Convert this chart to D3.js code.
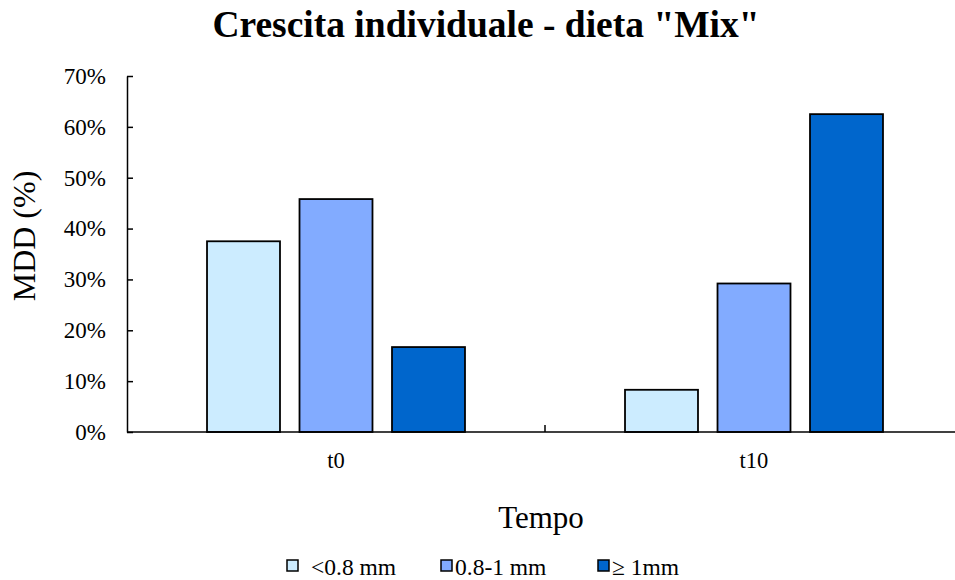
<!DOCTYPE html>
<html>
<head>
<meta charset="utf-8">
<script src="https://cdn.jsdelivr.net/npm/d3@7"></script>
<style>
  html, body { margin: 0; padding: 0; background: #fff; }
  svg { display: block; font-family: "Liberation Serif", "Times New Roman", serif; }
</style>
</head>
<body>
<svg id="chart" width="955" height="580"></svg>
<script>
// Time points and size classes
const categories = ["t0", "t10"];
const seriesNames = ["<0.8 mm", "0.8-1 mm", "\u2265 1mm"];
const seriesColors = ["#CCECFF", "#82ABFF", "#0066CC"];
// Share of individuals per size class (%), one array per class, ordered as categories
const small  = [37.5, 8.3];
const medium = [45.8, 29.2];
const large  = [16.7, 62.5];
const seriesValues = [small, medium, large];
const yTicks = [0, 10, 20, 30, 40, 50, 60, 70];

const svg = d3.select("#chart");
const plot = { left: 127, top: 76, bottom: 432, right: 963 };

const x0 = d3.scaleBand().domain(categories).range([plot.left, plot.right]).paddingInner(0).paddingOuter(0);
const x1 = d3.scaleBand().domain(d3.range(seriesNames.length)).range([0, x0.bandwidth()])
  .paddingInner(0.211).paddingOuter(0.865);
const y = d3.scaleLinear().domain([0, 70]).range([plot.bottom, plot.top]);

// Title
svg.append("text")
  .attr("x", 486).attr("y", 37)
  .attr("text-anchor", "middle")
  .attr("font-size", 37.5).attr("font-weight", "bold")
  .text('Crescita individuale - dieta "Mix"');

// Bars
const bars = [];
seriesValues.forEach((vals, si) => {
  vals.forEach((v, ci) => bars.push({ si, cat: categories[ci], v }));
});
svg.append("g").selectAll("rect").data(bars).join("rect")
  .attr("x", d => x0(d.cat) + x1(d.si))
  .attr("width", x1.bandwidth())
  .attr("y", d => y(d.v))
  .attr("height", d => y(0) - y(d.v))
  .attr("fill", d => seriesColors[d.si])
  .attr("stroke", "#000").attr("stroke-width", 1.8);

// Y axis
const yAxis = svg.append("g")
  .attr("transform", `translate(${plot.left},0)`)
  .call(d3.axisLeft(y).tickValues(yTicks).tickFormat(d => d + "%").tickSizeInner(-6).tickSizeOuter(0).tickPadding(21));
yAxis.select(".domain").attr("stroke", "#000").attr("stroke-width", 1.5);
yAxis.selectAll(".tick line").attr("stroke", "#000").attr("stroke-width", 1.5);
yAxis.selectAll(".tick text").attr("font-size", 23).attr("font-family", "Liberation Serif").attr("fill", "#000");

// X axis: dividers between categories, labels centred below
const xAxis = svg.append("g").attr("transform", `translate(0,${plot.bottom})`);
xAxis.append("line").attr("x1", plot.left).attr("x2", plot.right).attr("stroke", "#000").attr("stroke-width", 1.5);
xAxis.selectAll("line.div").data(categories.slice(1)).join("line")
  .attr("class", "div")
  .attr("x1", d => x0(d)).attr("x2", d => x0(d))
  .attr("y1", 0).attr("y2", -7)
  .attr("stroke", "#000").attr("stroke-width", 1.5);
xAxis.selectAll("text").data(categories).join("text")
  .attr("x", d => x0(d) + x0.bandwidth() / 2)
  .attr("y", 36)
  .attr("text-anchor", "middle")
  .attr("font-size", 22.5)
  .text(d => d);

// Axis titles
svg.append("text")
  .attr("transform", "translate(35,236) rotate(-90)")
  .attr("text-anchor", "middle")
  .attr("font-size", 32)
  .text("MDD (%)");
svg.append("text")
  .attr("x", 541).attr("y", 528)
  .attr("text-anchor", "middle")
  .attr("font-size", 31)
  .text("Tempo");

// Legend
const legendX = [287, 441, 598];
const legendTextX = [311, 455, 612];
const lg = svg.append("g");
seriesNames.forEach((name, i) => {
  lg.append("rect")
    .attr("x", legendX[i]).attr("y", 560)
    .attr("width", 11).attr("height", 11)
    .attr("fill", seriesColors[i])
    .attr("stroke", "#000").attr("stroke-width", 1.5);
  lg.append("text")
    .attr("x", legendTextX[i]).attr("y", 575)
    .attr("font-size", 23.5)
    .text(name);
});
</script>
</body>
</html>
